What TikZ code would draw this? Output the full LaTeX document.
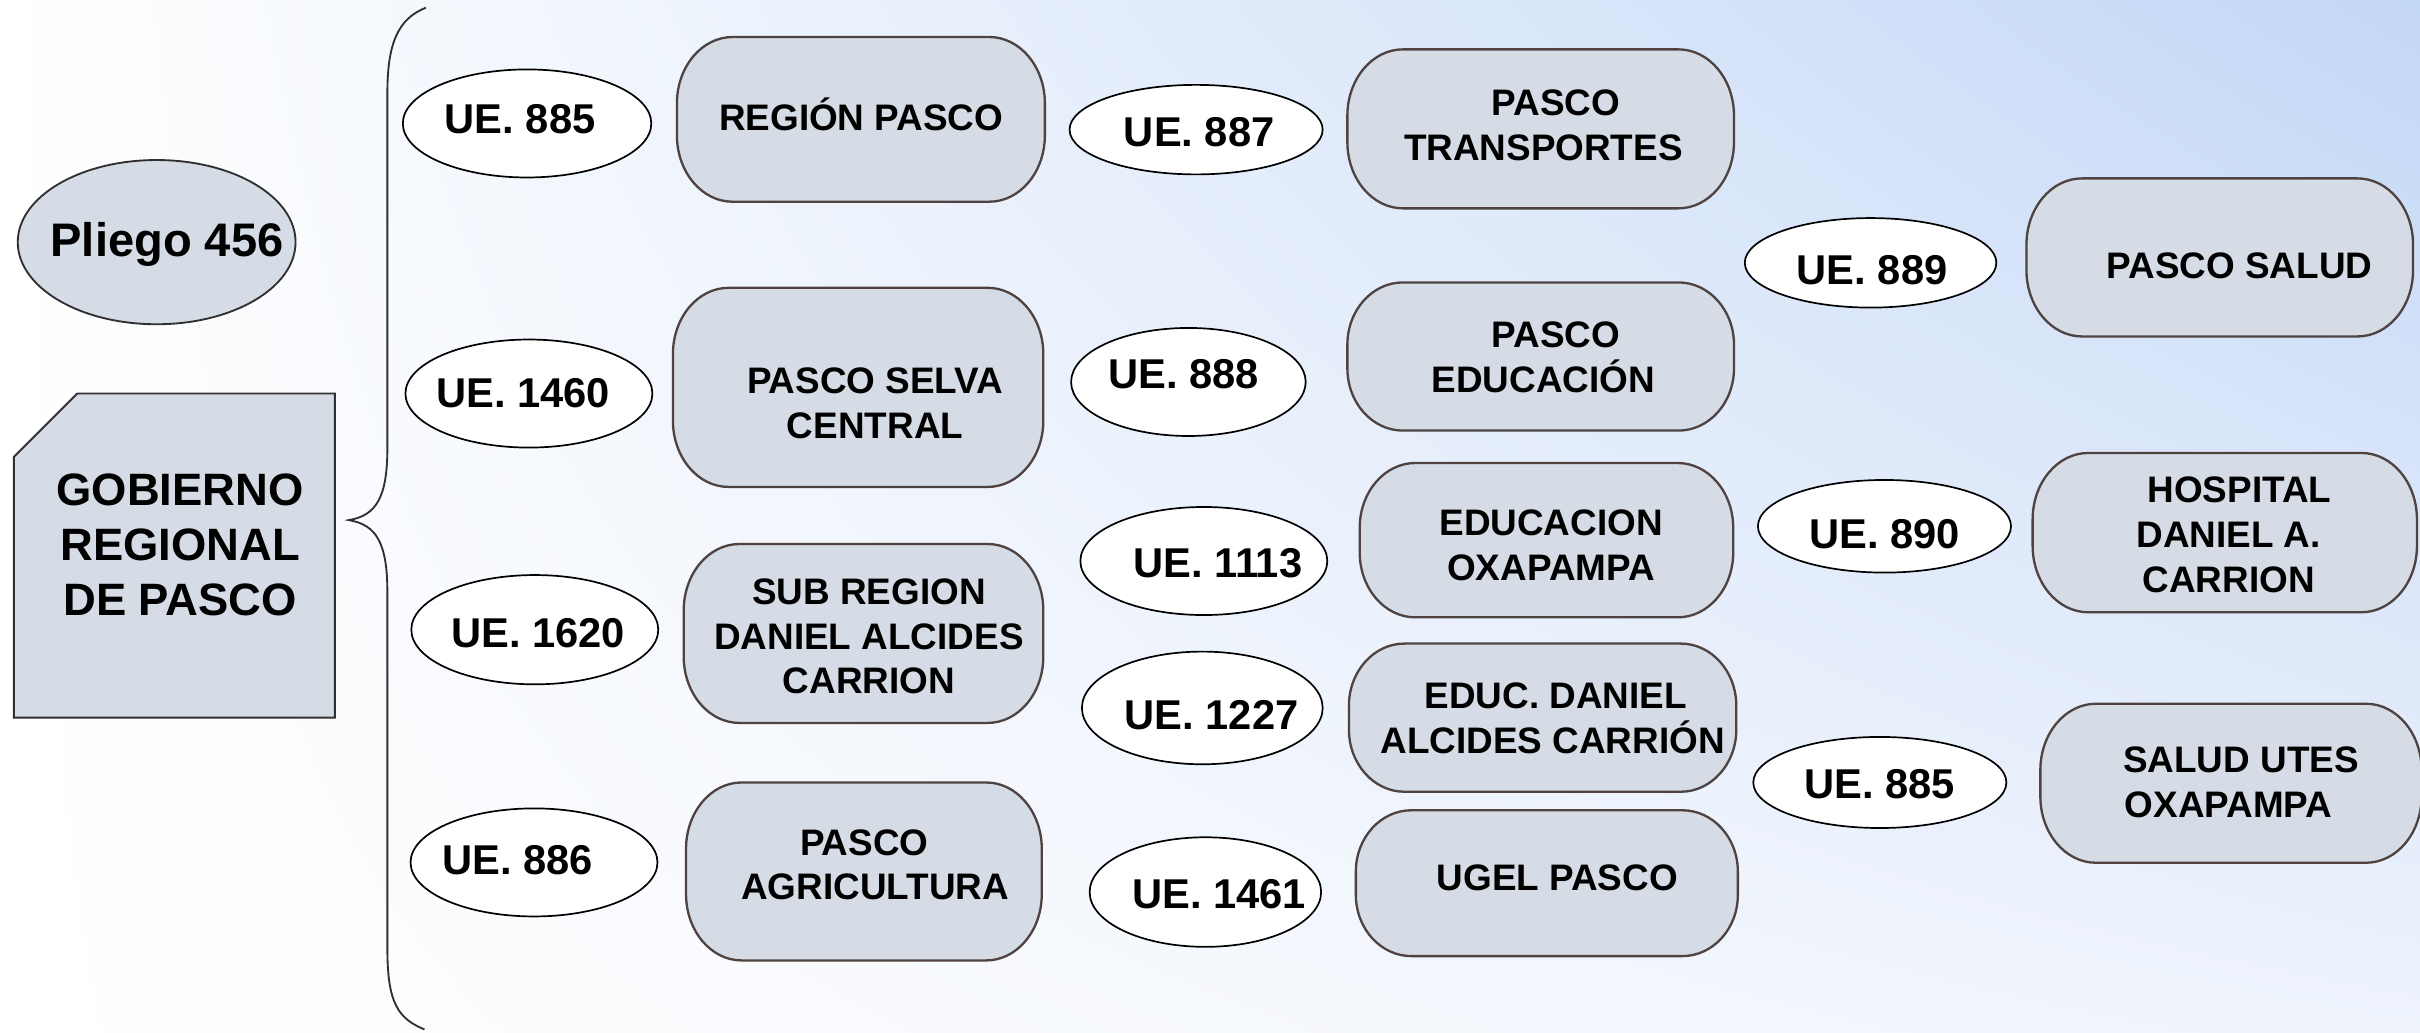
\documentclass[tikz,border=0pt]{standalone}
\usepackage{fontspec}
\setmainfont{Liberation Sans}
\usetikzlibrary{shapes.geometric,shadings}
\definecolor{boxfill}{HTML}{D6DCE5}
\definecolor{boxline}{HTML}{4E4340}
\definecolor{bgblue}{HTML}{C3D7F6}
\definecolor{bgmid}{HTML}{EEF3FC}
\definecolor{darkline}{HTML}{303030}
\tikzset{
  boxshape/.style={fill=boxfill, draw=boxline, line width=1.5pt},
  boxtext/.style={inner sep=0pt, align=center, text=black,
    font=\fontsize{23.9pt}{28.9pt}\selectfont\bfseries},
  one/.style={text height=17.1pt, text depth=0pt},
  ueshape/.style={ellipse, draw=black, fill=white, line width=1.1pt, inner sep=0pt},
  uetext/.style={inner sep=0pt, text=black, text height=19.3pt, text depth=0pt,
    font=\fontsize{27pt}{32pt}\selectfont\bfseries},
  braceline/.style={draw=darkline, line width=1.2pt}
}
\newcommand\ubox[9][]{%
  \pgfmathsetmacro\ubxa{#3}%
  \pgfmathsetmacro\ubxb{#5}%
  \pgfmathsetmacro\ubya{669-#4}%
  \pgfmathsetmacro\ubyb{669-#6}%
  \pgfmathsetmacro\ubry{min(0.42*(\ubya-\ubyb),43)}%
  \filldraw[boxshape] (\ubxa+36,\ubya) -- (\ubxb-36,\ubya)
    arc[start angle=90,end angle=0,x radius=36,y radius=\ubry]
    -- (\ubxb,\ubyb+\ubry)
    arc[start angle=0,end angle=-90,x radius=36,y radius=\ubry]
    -- (\ubxa+36,\ubyb)
    arc[start angle=270,end angle=180,x radius=36,y radius=\ubry]
    -- (\ubxa,\ubya-\ubry)
    arc[start angle=180,end angle=90,x radius=36,y radius=\ubry] -- cycle;
  \node[boxtext,#1] (#2) at (#7,669-#8) {#9};}
\newcommand\ue[8]{%
  \node[ueshape, minimum width=2*#4, minimum height=2*#5] (#1) at (#2,669-#3) {};
  \node[uetext] (#1t) at (#6,669-#7) {#8};}
\begin{document}
\begin{tikzpicture}[x=1pt,y=1pt]
\useasboundingbox (0,0) rectangle (1568,669);
\shade[upper left=white, upper right=bgblue, lower left=white, lower right=bgmid]
  (0,0) rectangle (1568,669);

% Pliego 456
\node[ellipse, draw=darkline, fill=boxfill, line width=1.2pt, inner sep=0pt,
  minimum width=180, minimum height=106.4] (pliego) at (101.5,669-156.9) {};
\node[inner sep=0pt, text height=21.8pt, text depth=0pt,
  font=\fontsize{30.5pt}{36pt}\selectfont\bfseries] (pliegot) at (108.2,669-155.2) {Pliego 456};

% Gobierno regional
\filldraw[fill=boxfill, draw=darkline, line width=1.2pt]
  (9,669-296) -- (50,669-255) -- (217,669-255) -- (217,669-465) -- (9,669-465) -- cycle;
\node[inner sep=0pt, align=center,
  font=\fontsize{29.4pt}{35.5pt}\selectfont\bfseries] (gob) at (116.7,669-353.2)
  {GOBIERNO\\REGIONAL\\DE PASCO};

% brace
\coordinate (bracetop) at (276,669-5);
\coordinate (bracetip) at (226,669-337);
\coordinate (bracebot) at (275,669-667);
\draw[braceline] (bracetop) .. controls (258,669-12) and (251,669-28) .. (251,669-60)
  -- (251,669-290) .. controls (251,669-322) and (244,669-334) .. (bracetip)
  .. controls (244,669-340) and (251,669-352) .. (251,669-384)
  -- (251,669-615) .. controls (251,669-650) and (258,669-660) .. (bracebot);

% column 1
\ue{u1}{341.5}{80}{80.5}{35}{337}{77}{UE. 885}
\ue{u2}{342.7}{255}{80}{35}{339}{254.6}{UE. 1460}
\ue{u3}{346.5}{408}{80}{35.4}{348.6}{409.7}{UE. 1620}
\ue{u4}{346}{558.8}{80}{35}{335.4}{557}{UE. 886}
\ubox[one]{b1}{438.6}{24}{677}{130.7}{558}{76.3}{REGIÓN PASCO}
\ubox{b2}{436}{186.5}{676}{315.5}{567}{261.3}{PASCO SELVA\\CENTRAL}
\ubox{b3}{443}{352.5}{676}{468.4}{563}{412.5}{SUB REGION\\DANIEL ALCIDES\\CARRION}
\ubox{b4}{444.5}{507}{675}{622.3}{567}{560.3}{PASCO\hspace*{14pt}\\AGRICULTURA}

% column 2
\ue{u5}{775}{84}{82}{29}{777}{85.3}{UE. 887}
\ue{u6}{770}{247.5}{76}{35}{767}{242}{UE. 888}
\ue{u7}{780}{363.5}{80}{35}{789}{364.7}{UE. 1113}
\ue{u8}{779}{458.7}{78}{36.5}{785}{462.8}{UE. 1227}
\ue{u9}{781}{578}{75}{35.5}{790}{578.8}{UE. 1461}
\ubox{b5}{873}{32}{1123.5}{135}{1000}{81}{\hspace*{16pt}PASCO\\TRANSPORTES}
\ubox{b6}{873}{183}{1123.5}{279}{1000}{231.4}{\hspace*{16pt}PASCO\\EDUCACIÓN}
\ubox{b7}{881}{300}{1123}{400}{1005}{353.4}{EDUCACION\\OXAPAMPA}
\ubox{b8}{874}{417}{1125}{513}{1006}{465.6}{\hspace*{4pt}EDUC. DANIEL\\ALCIDES CARRIÓN}
\ubox[one]{b9}{878.5}{525}{1126}{619.5}{1009}{568.6}{UGEL PASCO}

% column 3
\ue{u10}{1212}{170.3}{81.5}{29}{1213}{175}{UE. 889}
\ue{u11}{1221}{341}{82}{30}{1221}{346}{UE. 890}
\ue{u12}{1218}{507}{82}{29.5}{1218}{508}{UE. 885}
\ubox[one]{b10}{1313}{115.6}{1563.5}{218}{1451}{172}{PASCO SALUD}
\ubox{b11}{1317}{293.5}{1566}{396.7}{1444}{346.5}{\hspace*{14pt}HOSPITAL\\DANIEL A.\\CARRION}
\ubox{b12}{1322}{456}{1569}{559}{1444}{506.8}{\hspace*{16pt}SALUD UTES\\OXAPAMPA}
\end{tikzpicture}
\end{document}
